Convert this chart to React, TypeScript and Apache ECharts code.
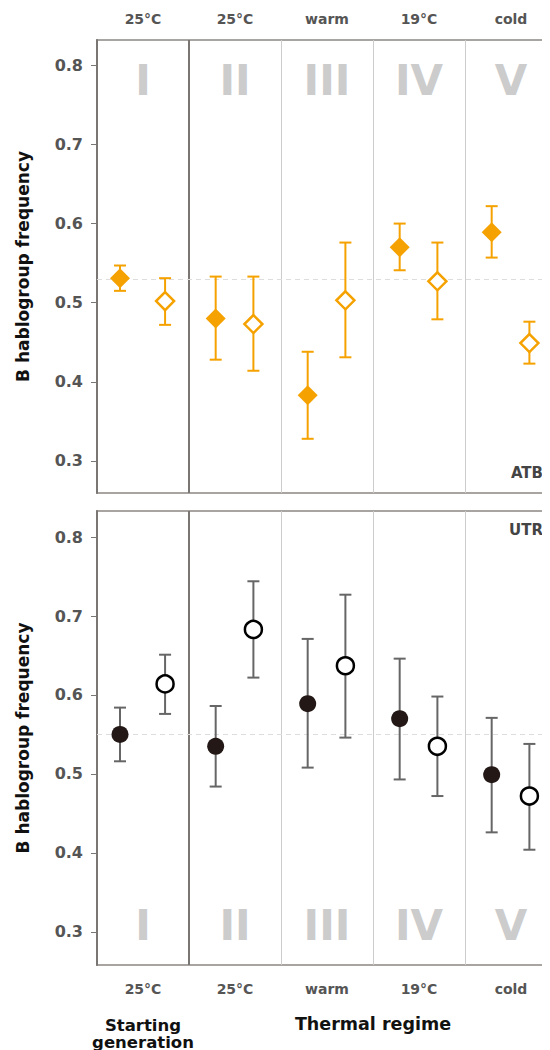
import React, { useEffect, useRef } from "react";
import * as echarts from "echarts";

// ---------- data ----------
const groups = ["I", "II", "III", "IV", "V"];
const tempLabels = ["25°C", "25°C", "warm", "19°C", "cold"];
const yTicks = [0.3, 0.4, 0.5, 0.6, 0.7, 0.8];

// dodge offsets within each regime (filled / open)
const filledOffset = [0.25, 0.29, 0.29, 0.29, 0.29];
const openOffset = [0.74, 0.7, 0.7, 0.7, 0.7];

// ATB panel (orange diamonds)
const atbFilled = [0.531, 0.48, 0.383, 0.57, 0.589];
const atbFilledLow = [0.515, 0.428, 0.328, 0.541, 0.557];
const atbFilledHigh = [0.547, 0.533, 0.438, 0.6, 0.622];
const atbOpen = [0.502, 0.473, 0.503, 0.527, 0.449];
const atbOpenLow = [0.472, 0.414, 0.431, 0.479, 0.423];
const atbOpenHigh = [0.531, 0.533, 0.576, 0.576, 0.476];
const atbRef = 0.531;

// UTR panel (black circles)
const utrFilled = [0.55, 0.535, 0.589, 0.57, 0.499];
const utrFilledLow = [0.516, 0.484, 0.508, 0.493, 0.426];
const utrFilledHigh = [0.584, 0.586, 0.671, 0.646, 0.571];
const utrOpen = [0.614, 0.683, 0.637, 0.535, 0.472];
const utrOpenLow = [0.576, 0.622, 0.546, 0.472, 0.404];
const utrOpenHigh = [0.651, 0.744, 0.727, 0.598, 0.538];
const utrRef = 0.551;

const FONT = "DejaVu Sans";
const ORANGE = "#F5A200";
const DARK = "#231815";
const BARGRAY = "#666666";

function pts(vals: number[], offs: number[]) {
  return vals.map((v, i) => [i + offs[i], v]);
}
function bars(lo: number[], hi: number[], offs: number[]) {
  return lo.map((l, i) => [i + offs[i], l, hi[i]]);
}

function errorRender(color: string) {
  return (params: any, api: any) => {
    const x = api.value(0);
    const lo = api.coord([x, api.value(1)]);
    const hi = api.coord([x, api.value(2)]);
    const hw = 6;
    const st = { stroke: color, lineWidth: 2 };
    return {
      type: "group",
      children: [
        { type: "line", shape: { x1: lo[0], y1: lo[1], x2: hi[0], y2: hi[1] }, style: st },
        { type: "line", shape: { x1: lo[0] - hw, y1: lo[1], x2: lo[0] + hw, y2: lo[1] }, style: st },
        { type: "line", shape: { x1: hi[0] - hw, y1: hi[1], x2: hi[0] + hw, y2: hi[1] }, style: st },
      ],
    };
  };
}

function separators(refY: number) {
  return {
    silent: true,
    symbol: "none",
    label: { show: false },
    animation: false,
    z: 1,
    data: [
      { xAxis: 1, lineStyle: { color: "#7a7674", width: 2, type: "solid" } },
      { xAxis: 2, lineStyle: { color: "#cccccc", width: 1, type: "solid" } },
      { xAxis: 3, lineStyle: { color: "#cccccc", width: 1, type: "solid" } },
      { xAxis: 4, lineStyle: { color: "#cccccc", width: 1, type: "solid" } },
      { yAxis: refY, lineStyle: { color: "#dddddd", width: 1.2, type: [5, 4] } },
    ],
  };
}

export default function App() {
  const ref = useRef<HTMLDivElement>(null);

  useEffect(() => {
    if (!ref.current) return;
    const chart = echarts.init(ref.current, undefined, { renderer: "svg" });

    const gridBase = { left: 89, width: 460, show: true, borderColor: "#8a8684", borderWidth: 1.5, backgroundColor: "transparent" };
    const yAxisBase = (idx: number, min: number, max: number) => ({
      type: "value",
      gridIndex: idx,
      min,
      max,
      axisLine: { show: true, lineStyle: { color: "#7a7674", width: 2 } },
      axisTick: { show: true, length: 6, customValues: yTicks, lineStyle: { color: "#7a7674", width: 1 } },
      axisLabel: {
        customValues: yTicks,
        margin: 14,
        fontFamily: FONT,
        fontWeight: "bold",
        fontSize: 16,
        color: "#555555",
        formatter: (v: number) => v.toFixed(1),
      },
      splitLine: { show: false },
    });
    const xAxisBase = (idx: number) => ({
      type: "value",
      gridIndex: idx,
      min: 0,
      max: 5,
      axisLine: { show: false },
      axisTick: { show: false },
      axisLabel: { show: false },
      splitLine: { show: false },
    });

    chart.setOption({
      animation: false,
      grid: [
        { ...gridBase, top: 32, height: 453 },
        { ...gridBase, top: 503, height: 454 },
      ],
      xAxis: [xAxisBase(0), xAxisBase(1)],
      yAxis: [yAxisBase(0, 0.2595, 0.832), yAxisBase(1, 0.258, 0.833)],
      series: [
        {
          type: "custom",
          xAxisIndex: 0,
          yAxisIndex: 0,
          renderItem: errorRender(ORANGE),
          data: bars(atbFilledLow, atbFilledHigh, filledOffset).concat(bars(atbOpenLow, atbOpenHigh, openOffset)),
          markLine: separators(atbRef),
          z: 2,
        },
        {
          type: "scatter",
          xAxisIndex: 0,
          yAxisIndex: 0,
          symbol: "diamond",
          symbolSize: 20,
          itemStyle: { color: ORANGE, opacity: 1 },
          data: pts(atbFilled, filledOffset),
          z: 10,
        },
        {
          type: "scatter",
          xAxisIndex: 0,
          yAxisIndex: 0,
          symbol: "diamond",
          symbolSize: 18,
          itemStyle: { color: "#ffffff", borderColor: ORANGE, borderWidth: 2.5, opacity: 1 },
          data: pts(atbOpen, openOffset),
          z: 10,
        },
        {
          type: "custom",
          xAxisIndex: 1,
          yAxisIndex: 1,
          renderItem: errorRender(BARGRAY),
          data: bars(utrFilledLow, utrFilledHigh, filledOffset).concat(bars(utrOpenLow, utrOpenHigh, openOffset)),
          markLine: separators(utrRef),
          z: 2,
        },
        {
          type: "scatter",
          xAxisIndex: 1,
          yAxisIndex: 1,
          symbol: "circle",
          symbolSize: 17,
          itemStyle: { color: DARK, opacity: 1 },
          data: pts(utrFilled, filledOffset),
          z: 10,
        },
        {
          type: "scatter",
          xAxisIndex: 1,
          yAxisIndex: 1,
          symbol: "circle",
          symbolSize: 17,
          itemStyle: { color: "#ffffff", borderColor: "#000000", borderWidth: 2.5, opacity: 1 },
          data: pts(utrOpen, openOffset),
          z: 10,
        },
      ],
    });

    // text overlays placed via the axes' scales
    const gfx: any[] = [];
    const numeral = (x: number, y: number, g: string) => ({
      type: "text",
      x,
      y,
      z: 0,
      style: { text: g, fontFamily: FONT, fontWeight: "bold", fontSize: 42, fill: "#cccccc", align: "center", verticalAlign: "middle" },
    });
    const tempText = (x: number, y: number, t: string) => ({
      type: "text",
      x,
      y,
      style: { text: t, fontFamily: FONT, fontWeight: "bold", fontSize: 14, fill: "#555555", align: "center", verticalAlign: "middle" },
    });
    groups.forEach((g, i) => {
      const topP = chart.convertToPixel({ gridIndex: 0 } as any, [i + 0.5, 0.8]) as number[];
      const botP = chart.convertToPixel({ gridIndex: 1 } as any, [i + 0.5, 0.3]) as number[];
      gfx.push(numeral(topP[0], topP[1] + 15, g));
      gfx.push(numeral(botP[0], botP[1] - 6, g));
      gfx.push(tempText(topP[0], 11, tempLabels[i]));
      gfx.push(tempText(botP[0], 981, tempLabels[i]));
    });
    const ytitle = (y: number) => ({
      type: "text",
      x: 15,
      y,
      rotation: Math.PI / 2,
      style: { text: "B hablogroup frequency", fontFamily: FONT, fontWeight: "bold", fontSize: 17, fill: "#111111", align: "center", verticalAlign: "middle" },
    });
    gfx.push(ytitle(32 + 453 / 2));
    gfx.push(ytitle(503 + 454 / 2));
    gfx.push({
      type: "text",
      x: 535,
      y: 465,
      style: { text: "ATB", fontFamily: FONT, fontWeight: "bold", fontSize: 15, fill: "#444444", align: "right", verticalAlign: "middle" },
    });
    gfx.push({
      type: "text",
      x: 535,
      y: 522,
      style: { text: "UTR", fontFamily: FONT, fontWeight: "bold", fontSize: 15, fill: "#444444", align: "right", verticalAlign: "middle" },
    });
    const titleText = (x: number, y: number, t: string, size: number) => ({
      type: "text",
      x,
      y,
      style: { text: t, fontFamily: FONT, fontWeight: "bold", fontSize: size, fill: "#111111", align: "center", verticalAlign: "middle" },
    });
    gfx.push(titleText(135, 1017, "Starting", 16.5));
    gfx.push(titleText(135, 1034, "generation", 16.5));
    gfx.push(titleText(365, 1016, "Thermal regime", 17.5));

    chart.setOption({ graphic: gfx });

    return () => chart.dispose();
  }, []);

  return (
    <div style={{ width: 542, height: 1042, overflow: "hidden" }}>
      <div ref={ref} style={{ width: 560, height: 1042 }} />
    </div>
  );
}
